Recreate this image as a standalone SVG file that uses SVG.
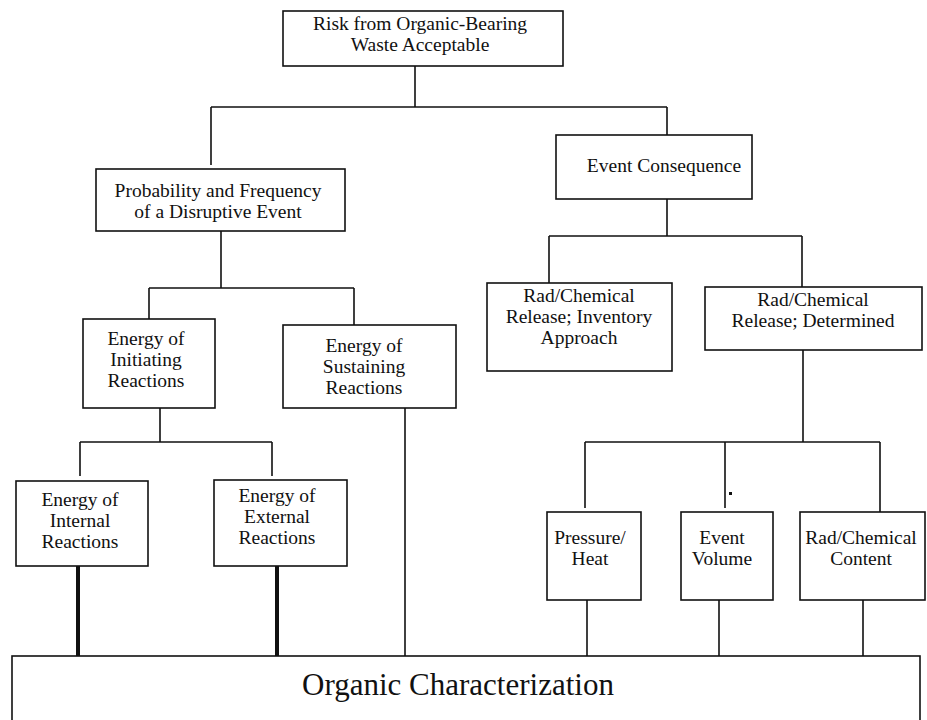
<svg xmlns="http://www.w3.org/2000/svg" width="927" height="720" viewBox="0 0 927 720">
<style>
.box{fill:#fff;stroke:#111;stroke-width:1.6}
.ln{stroke:#111;stroke-width:1.6;fill:none}
.thick{stroke:#111;stroke-width:4;fill:none}
text{font-family:"Liberation Serif","Times New Roman",serif;font-size:19.5px;fill:#111;text-anchor:middle}
.big{font-size:31px}
</style>
<rect width="927" height="720" fill="#fff"/>
<g id="connectors">
<path class="ln" d="M415 66V107M211 107H667M211 107V165M667 107V135"/>
<path class="ln" d="M221 231V288M149 288H354M149 288V319M354 288V325"/>
<path class="ln" d="M160 408V442M80 442H272M80 442V476M272 442V476"/>
<path class="thick" d="M78 566V656M277 566V656"/>
<path class="ln" d="M405 408V656"/>
<path class="ln" d="M667 199V236M549 236H802M549 236V283M802 236V287"/>
<path class="ln" d="M803 350V442M585 442H880M585 442V508M725 442V508M880 442V512"/>
<path class="ln" d="M587 600V656M719 600V656M863 600V656"/>
<rect x="729" y="492" width="3" height="3" fill="#111"/>
<path d="M562 719H620" stroke="#111" stroke-width="2"/>
</g>
<g id="n-risk">
<rect class="box" x="283" y="11" width="280" height="55"/>
<text x="420" y="30">Risk from Organic-Bearing</text>
<text x="420" y="51">Waste Acceptable</text>
</g>
<g id="n-prob">
<rect class="box" x="96" y="169" width="249" height="62"/>
<text x="218" y="197">Probability and Frequency</text>
<text x="218" y="218">of a Disruptive Event</text>
</g>
<g id="n-conseq">
<rect class="box" x="556" y="135" width="196" height="64"/>
<text x="664" y="172">Event Consequence</text>
</g>
<g id="n-init">
<rect class="box" x="83" y="319" width="132" height="89"/>
<text x="146" y="345">Energy of</text>
<text x="146" y="366">Initiating</text>
<text x="146" y="387">Reactions</text>
</g>
<g id="n-sust">
<rect class="box" x="283" y="325" width="173" height="83"/>
<text x="364" y="352">Energy of</text>
<text x="364" y="373">Sustaining</text>
<text x="364" y="394">Reactions</text>
</g>
<g id="n-internal">
<rect class="box" x="16" y="481" width="132" height="85"/>
<text x="80" y="506">Energy of</text>
<text x="80" y="527">Internal</text>
<text x="80" y="548">Reactions</text>
</g>
<g id="n-external">
<rect class="box" x="214" y="480" width="133" height="86"/>
<text x="277" y="502">Energy of</text>
<text x="277" y="523">External</text>
<text x="277" y="544">Reactions</text>
</g>
<g id="n-inventory">
<rect class="box" x="487" y="283" width="185" height="88"/>
<text x="579" y="302">Rad/Chemical</text>
<text x="579" y="323">Release; Inventory</text>
<text x="579" y="344">Approach</text>
</g>
<g id="n-determined">
<rect class="box" x="705" y="287" width="217" height="63"/>
<text x="813" y="306">Rad/Chemical</text>
<text x="813" y="327">Release; Determined</text>
</g>
<g id="n-pressure">
<rect class="box" x="547" y="512" width="94" height="88"/>
<text x="590" y="544">Pressure/</text>
<text x="590" y="565">Heat</text>
</g>
<g id="n-volume">
<rect class="box" x="681" y="512" width="92" height="88"/>
<text x="722" y="544">Event</text>
<text x="722" y="565">Volume</text>
</g>
<g id="n-content">
<rect class="box" x="800" y="512" width="125" height="88"/>
<text x="861" y="544">Rad/Chemical</text>
<text x="861" y="565">Content</text>
</g>
<g id="n-organic">
<rect class="box" x="12" y="656" width="908" height="80"/>
<text class="big" x="458" y="695">Organic Characterization</text>
</g>
</svg>
